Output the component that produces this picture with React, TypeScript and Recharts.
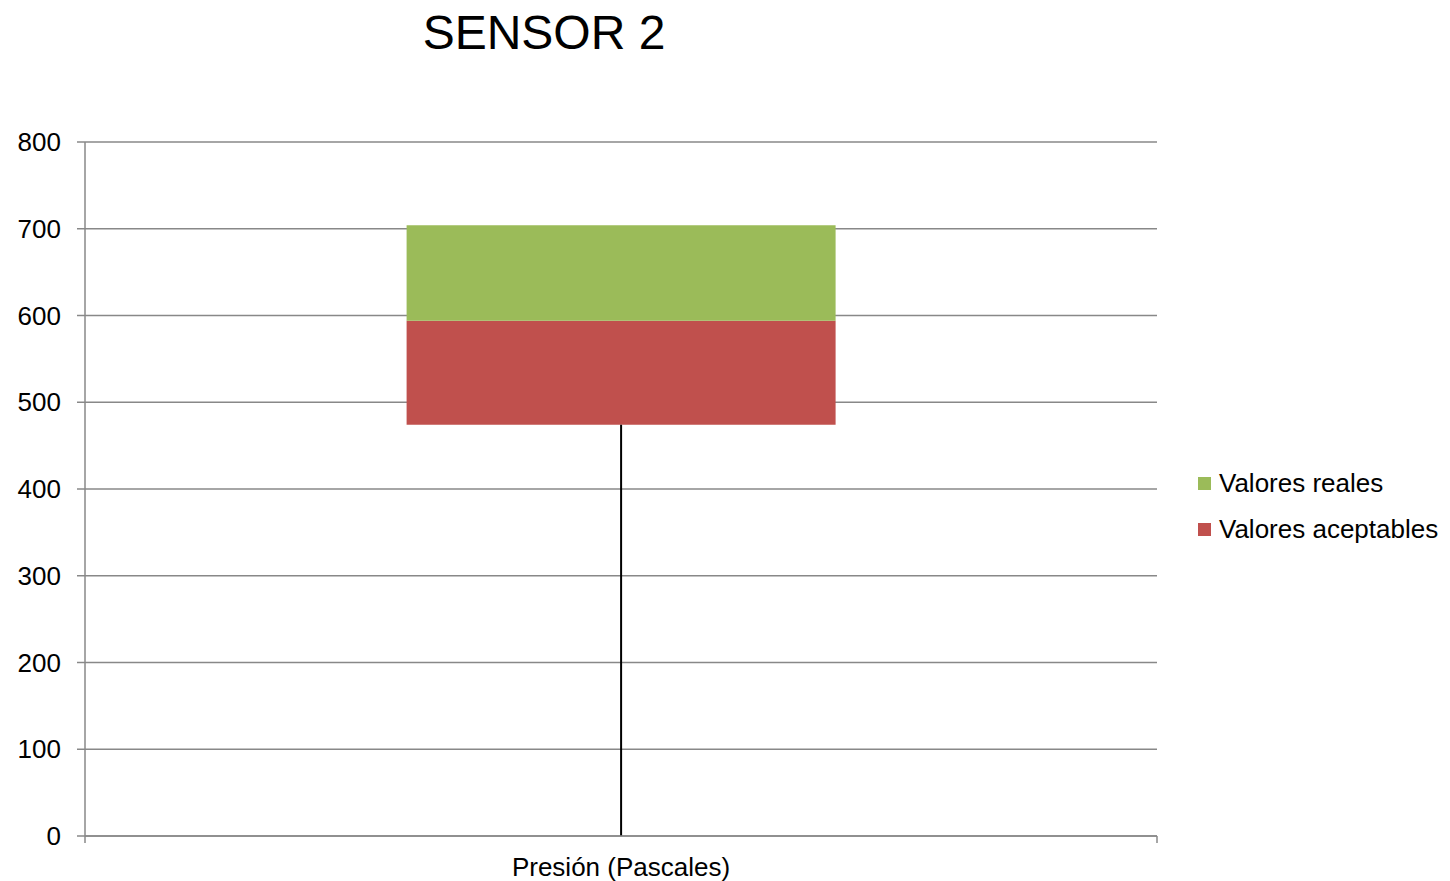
import { BarChart, Bar, XAxis, YAxis, CartesianGrid, ErrorBar } from "recharts";

const categories = ["Presión (Pascales)"];
const baseValues = [474];
const aceptables = [120];
const reales = [110];
const lowerWhisker = [474];
const yTicks = [0, 100, 200, 300, 400, 500, 600, 700, 800];

const data = categories.map((name, i) => ({
  name,
  base: baseValues[i],
  aceptables: aceptables[i],
  reales: reales[i],
  whisker: [lowerWhisker[i], 0],
}));

const legendItems = [
  { label: "Valores reales", color: "#9BBB59" },
  { label: "Valores aceptables", color: "#C0504D" },
];

const FONT = "'Liberation Sans', Arial, sans-serif";
const GRID = "#888888";

// category label plus the small marks at the band edges, like Excel draws them
const CategoryTick = ({ x, y, payload }: any) => {
  const half = payload?.offset || 536;
  return (
    <g>
      <line x1={x - half} x2={x - half} y1={y} y2={y + 7} stroke={GRID} strokeWidth={1.5} />
      <line x1={x + half} x2={x + half} y1={y} y2={y + 7} stroke={GRID} strokeWidth={1.5} />
      <text x={x} y={y + 22} dy="0.71em" textAnchor="middle" fill="#000" fontSize={26} fontFamily={FONT}>
        {payload.value}
      </text>
    </g>
  );
};

export default function App() {
  return (
    <div style={{ position: "absolute", left: 0, top: 0, width: 1450, height: 881, background: "#fff" }}>
      <div
        style={{
          position: "absolute", left: 344, top: 9, width: 400, textAlign: "center",
          fontFamily: FONT, fontSize: 48, lineHeight: 1, color: "#000",
        }}
      >
        SENSOR 2
      </div>
      <BarChart
        width={1450}
        height={881}
        data={data}
        margin={{ top: 142, right: 293, bottom: 0, left: 0 }}
        barCategoryGap="30%"
      >
        <CartesianGrid vertical={false} stroke={GRID} strokeWidth={1.5} />
        <XAxis
          dataKey="name"
          height={45}
          axisLine={{ stroke: GRID, strokeWidth: 1.5 }}
          tickLine={false}
          tickSize={0}
          tickMargin={0}
          tick={<CategoryTick />}
        />
        <YAxis
          width={85}
          domain={[0, 800]}
          ticks={yTicks}
          axisLine={{ stroke: GRID, strokeWidth: 1.5 }}
          tickLine={{ stroke: GRID, strokeWidth: 1.5 }}
          tickSize={8}
          tickMargin={16}
          tick={{ fill: "#000", fontSize: 26, fontFamily: FONT }}
        />
        <Bar dataKey="base" stackId="a" fill="transparent" legendType="none" isAnimationActive={false}>
          <ErrorBar dataKey="whisker" direction="y" width={0} stroke="#000" strokeWidth={2} />
        </Bar>
        <Bar dataKey="aceptables" name="Valores aceptables" stackId="a" fill="#C0504D" isAnimationActive={false} />
        <Bar dataKey="reales" name="Valores reales" stackId="a" fill="#9BBB59" isAnimationActive={false} />
      </BarChart>
      <div style={{ position: "absolute", left: 1198, top: 460, fontFamily: FONT, fontSize: 26, color: "#000" }}>
        {legendItems.map((it) => (
          <div key={it.label} style={{ display: "flex", alignItems: "center", height: 46, whiteSpace: "nowrap" }}>
            <span style={{ width: 13, height: 13, background: it.color, marginRight: 8, display: "inline-block" }} />
            <span>{it.label}</span>
          </div>
        ))}
      </div>
    </div>
  );
}
